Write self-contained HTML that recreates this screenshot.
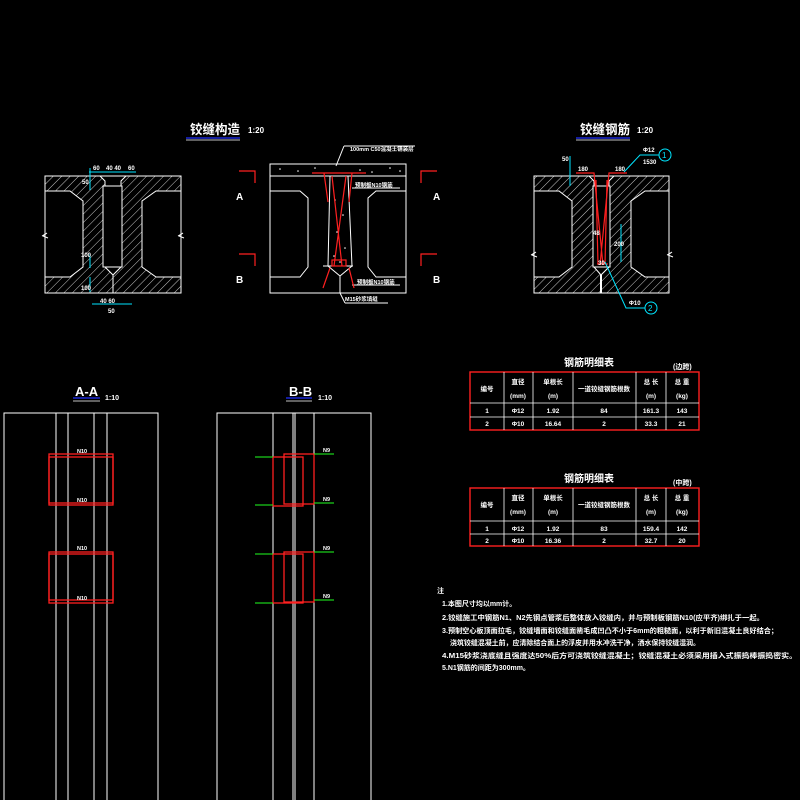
<!DOCTYPE html>
<html><head><meta charset="utf-8"><style>
html,body{margin:0;padding:0;background:#000;}
svg{display:block}
text{font-family:"Liberation Sans","Noto Sans CJK SC",sans-serif;fill:#fff;font-weight:bold}
</style></head><body>
<svg width="800" height="800" viewBox="0 0 800 800" xmlns="http://www.w3.org/2000/svg">
<defs>
<pattern id="h" width="6" height="6" patternUnits="userSpaceOnUse" patternTransform="rotate(45)">
<line x1="0" y1="0" x2="0" y2="6" stroke="#fff" stroke-width="0.8"/>
</pattern>
</defs>
<rect width="800" height="800" fill="#000"/>

<!-- Titles -->
<text x="190" y="134" font-size="13" textLength="50" lengthAdjust="spacingAndGlyphs">铰缝构造</text>
<text x="248" y="133" font-size="8">1:20</text>
<line x1="186" y1="138" x2="240" y2="138" stroke="#2030ff" stroke-width="1.2"/>
<line x1="186" y1="140" x2="240" y2="140" stroke="#fff" stroke-width="0.8"/>
<text x="580" y="134" font-size="13" textLength="50" lengthAdjust="spacingAndGlyphs">铰缝钢筋</text>
<text x="637" y="133" font-size="8">1:20</text>
<line x1="576" y1="138" x2="630" y2="138" stroke="#2030ff" stroke-width="1.2"/>
<line x1="576" y1="140" x2="630" y2="140" stroke="#fff" stroke-width="0.8"/>

<!-- Left drawing -->
<g stroke="#fff" stroke-width="1" fill="none">
<rect x="45" y="176" width="136" height="117"/>
<path d="M45,176 L100,176 L105,181 L105,267 L113,275 L113,293 L45,293 L45,277 L70,277 L83,267 L83,201 L70,191 L45,191 Z" fill="url(#h)"/>
<path d="M181,176 L126,176 L121,181 L121,267 L113,275 L113,293 L181,293 L181,277 L156,277 L142,267 L142,201 L156,191 L181,191 Z" fill="url(#h)"/>
<rect x="103" y="186" width="19" height="81" fill="#000"/>
<path d="M42,236 L47,233 L43,236 L48,238" />
<path d="M178,236 L183,233 L179,236 L184,238" />
</g>
<g stroke="#00e5ff" stroke-width="1" fill="none">
<line x1="89" y1="172" x2="136" y2="172"/><line x1="90" y1="168" x2="90" y2="190"/>
<line x1="90" y1="254" x2="90" y2="268"/><line x1="90" y1="277" x2="90" y2="292"/>
<line x1="92" y1="304" x2="132" y2="304"/>
</g>
<g font-size="6">
<text x="93" y="170">60</text><text x="106" y="170">40 40</text><text x="128" y="170">60</text>
<text x="82" y="184">50</text><text x="81" y="257">100</text><text x="81" y="290">100</text>
<text x="100" y="303">40 60</text><text x="108" y="313">50</text>
</g>

<!-- Middle drawing -->
<g stroke="#fff" stroke-width="1" fill="none">
<rect x="270" y="164" width="136" height="129"/>
<line x1="270" y1="176" x2="406" y2="176"/>
<path d="M270,191 L300,191 L308,198 L308,267 L300,277 L270,277"/>
<path d="M406,191 L376,191 L368,198 L368,267 L376,277 L406,277"/>
<path d="M330,176 L328,266 L340,276 L352,266 L348,176"/>
<line x1="340" y1="276" x2="340" y2="293"/>
<line x1="323" y1="266" x2="353" y2="266"/>
<line x1="344" y1="146" x2="336" y2="166"/>
<line x1="344" y1="146" x2="415" y2="146"/>
<line x1="352" y1="188" x2="400" y2="188"/>
<line x1="352" y1="285" x2="400" y2="285"/>
<line x1="340" y1="293" x2="345" y2="303"/><line x1="345" y1="303" x2="388" y2="303"/>
</g>
<g fill="#fff">
<circle cx="280" cy="169" r="0.8"/><circle cx="298" cy="171" r="0.8"/><circle cx="315" cy="168" r="0.8"/><circle cx="360" cy="170" r="0.8"/><circle cx="372" cy="172" r="0.8"/><circle cx="390" cy="168" r="0.8"/><circle cx="400" cy="171" r="0.8"/>
<circle cx="335" cy="200" r="0.8"/><circle cx="343" cy="215" r="0.8"/><circle cx="337" cy="232" r="0.8"/><circle cx="345" cy="248" r="0.8"/><circle cx="334" cy="256" r="0.8"/><circle cx="340" cy="262" r="0.8"/>
</g>
<g stroke="#ff2020" stroke-width="1.2" fill="none">
<line x1="312" y1="173" x2="366" y2="173"/>
<line x1="324" y1="173" x2="328" y2="202"/><line x1="352" y1="173" x2="349" y2="202"/>
<path d="M332,176 L342,266 M346,176 L334,266"/>
<rect x="332" y="260" width="14" height="6"/>
<line x1="330" y1="268" x2="323" y2="288"/><line x1="349" y1="268" x2="354" y2="288"/>
<path d="M239,171 L255,171 L255,183"/><path d="M437,171 L421,171 L421,183"/>
<path d="M239,254 L255,254 L255,266"/><path d="M437,254 L421,254 L421,266"/>
</g>
<g font-size="10" font-weight="normal"><text x="236" y="200">A</text><text x="433" y="200">A</text><text x="236" y="283">B</text><text x="433" y="283">B</text></g>
<g font-size="5.5">
<text x="350" y="151">100mm C50混凝土铺装层</text>
<text x="355" y="187">预制板N10钢筋</text>
<text x="357" y="284">预制板N10钢筋</text>
<text x="345" y="301">M15砂浆填缝</text>
</g>

<!-- Right drawing -->
<g stroke="#fff" stroke-width="1" fill="none">
<rect x="534" y="176" width="135" height="117"/>
<path d="M534,176 L589,176 L594,181 L594,267 L601,275 L601,293 L534,293 L534,277 L559,277 L572,267 L572,201 L559,191 L534,191 Z" fill="url(#h)"/>
<path d="M669,176 L614,176 L609,181 L609,267 L601,275 L601,293 L669,293 L669,277 L645,277 L631,267 L631,201 L645,191 L669,191 Z" fill="url(#h)"/>
<rect x="593" y="186" width="17" height="81" fill="#000"/>
<line x1="601" y1="275" x2="601" y2="293" stroke-width="2"/>
<path d="M531,255 L536,252 L532,255 L537,257"/><path d="M667,255 L672,252 L668,255 L673,257"/>
</g>
<g stroke="#ff2020" stroke-width="1.2" fill="none">
<path d="M576,173 L594,173 L603,265 M627,173 L609,173 L600,265"/>
<path d="M596,180 L598,264 M607,180 L605,264"/>
<line x1="597" y1="264" x2="608" y2="264"/>
</g>
<g stroke="#00e5ff" stroke-width="1" fill="none">
<line x1="570" y1="156" x2="570" y2="186"/>
<line x1="621" y1="224" x2="621" y2="262"/>
<path d="M624,172 L640,155 L659,155"/><circle cx="665" cy="155" r="6"/>
<path d="M605,262 L626,308 L645,308"/><circle cx="651" cy="308" r="6"/>
</g>
<g font-size="6"><text x="562" y="161">50</text><text x="578" y="171">180</text><text x="615" y="171">180</text>
<text x="643" y="152">Φ12</text><text x="643" y="164">1530</text><text x="593" y="235">48</text><text x="614" y="246">200</text><text x="598" y="265">30</text><text x="629" y="305">Φ10</text></g>
<g font-size="8"><text x="662" y="158" style="fill:#00e5ff;font-weight:normal">1</text><text x="648" y="311" style="fill:#00e5ff;font-weight:normal">2</text></g>

<!-- A-A -->
<text x="75" y="396" font-size="13" font-weight="normal">A-A</text>
<text x="105" y="400" font-size="7">1:10</text>
<line x1="73" y1="398" x2="100" y2="398" stroke="#2030ff" stroke-width="1.2"/>
<line x1="73" y1="401" x2="100" y2="401" stroke="#fff" stroke-width="0.8"/>
<g stroke="#fff" stroke-width="1" fill="none">
<path d="M4,800 L4,413 L158,413 L158,800"/>
<line x1="56" y1="413" x2="56" y2="800"/><line x1="68" y1="413" x2="68" y2="800"/>
<line x1="94" y1="413" x2="94" y2="800"/><line x1="107" y1="413" x2="107" y2="800"/>
</g>
<g stroke="#ff2020" stroke-width="1.3" fill="none">
<rect x="49" y="454" width="64" height="51"/><rect x="49" y="457" width="64" height="46"/>
<rect x="49" y="552" width="64" height="51"/><rect x="49" y="554" width="64" height="46"/>
</g>
<g font-size="5.5"><text x="77" y="453">N10</text><text x="77" y="502">N10</text><text x="77" y="550">N10</text><text x="77" y="600">N10</text></g>

<!-- B-B -->
<text x="289" y="396" font-size="13" font-weight="normal">B-B</text>
<text x="318" y="400" font-size="7">1:10</text>
<line x1="286" y1="398" x2="312" y2="398" stroke="#2030ff" stroke-width="1.2"/>
<line x1="286" y1="401" x2="312" y2="401" stroke="#fff" stroke-width="0.8"/>
<g stroke="#fff" stroke-width="1" fill="none">
<path d="M217,800 L217,413 L371,413 L371,800"/>
<line x1="273" y1="413" x2="273" y2="800"/><line x1="293" y1="413" x2="293" y2="800"/>
<line x1="295" y1="413" x2="295" y2="800"/><line x1="314" y1="413" x2="314" y2="800"/>
</g>
<g stroke="#ff2020" stroke-width="1.3" fill="none">
<rect x="284" y="454" width="30" height="50"/><rect x="273" y="457" width="30" height="49"/>
<rect x="284" y="552" width="30" height="50"/><rect x="273" y="554" width="30" height="49"/>
</g>
<g stroke="#20ff20" stroke-width="1">
<line x1="255" y1="457" x2="273" y2="457"/><line x1="255" y1="505" x2="273" y2="505"/>
<line x1="255" y1="554" x2="273" y2="554"/><line x1="255" y1="603" x2="273" y2="603"/>
<line x1="314" y1="454" x2="334" y2="454"/><line x1="314" y1="503" x2="334" y2="503"/>
<line x1="314" y1="552" x2="334" y2="552"/><line x1="314" y1="600" x2="334" y2="600"/>
</g>
<g font-size="5.5"><text x="323" y="452">N9</text><text x="323" y="501">N9</text><text x="323" y="550">N9</text><text x="323" y="598">N9</text></g>

<!-- Table 1 -->
<text x="564" y="366" font-size="10">钢筋明细表</text>
<text x="673" y="369" font-size="7">(边跨)</text>
<g stroke="#ff2020" stroke-width="1.4" fill="none"><rect x="470" y="372" width="229" height="58"/></g>
<g stroke="#fff" stroke-width="0.8">
<line x1="504" y1="372" x2="504" y2="430"/><line x1="533" y1="372" x2="533" y2="430"/><line x1="573" y1="372" x2="573" y2="430"/><line x1="636" y1="372" x2="636" y2="430"/><line x1="666" y1="372" x2="666" y2="430"/>
<line x1="470" y1="403" x2="699" y2="403"/><line x1="470" y1="417" x2="699" y2="417"/>
</g>
<g font-size="6.5" text-anchor="middle">
<text x="487" y="391">编号</text><text x="518" y="384">直径</text><text x="518" y="398">(mm)</text>
<text x="553" y="384">单根长</text><text x="553" y="398">(m)</text><text x="604" y="391">一道铰缝钢筋根数</text>
<text x="651" y="384">总 长</text><text x="651" y="398">(m)</text><text x="682" y="384">总 重</text><text x="682" y="398">(kg)</text>
<text x="487" y="413">1</text><text x="518" y="413">Φ12</text><text x="553" y="413">1.92</text><text x="604" y="413">84</text><text x="651" y="413">161.3</text><text x="682" y="413">143</text>
<text x="487" y="426">2</text><text x="518" y="426">Φ10</text><text x="553" y="426">16.64</text><text x="604" y="426">2</text><text x="651" y="426">33.3</text><text x="682" y="426">21</text>
</g>

<!-- Table 2 -->
<text x="564" y="482" font-size="10">钢筋明细表</text>
<text x="673" y="485" font-size="7">(中跨)</text>
<g stroke="#ff2020" stroke-width="1.4" fill="none"><rect x="470" y="488" width="229" height="58"/></g>
<g stroke="#fff" stroke-width="0.8">
<line x1="504" y1="488" x2="504" y2="546"/><line x1="533" y1="488" x2="533" y2="546"/><line x1="573" y1="488" x2="573" y2="546"/><line x1="636" y1="488" x2="636" y2="546"/><line x1="666" y1="488" x2="666" y2="546"/>
<line x1="470" y1="521" x2="699" y2="521"/><line x1="470" y1="534" x2="699" y2="534"/>
</g>
<g font-size="6.5" text-anchor="middle">
<text x="487" y="507">编号</text><text x="518" y="500">直径</text><text x="518" y="514">(mm)</text>
<text x="553" y="500">单根长</text><text x="553" y="514">(m)</text><text x="604" y="507">一道铰缝钢筋根数</text>
<text x="651" y="500">总 长</text><text x="651" y="514">(m)</text><text x="682" y="500">总 重</text><text x="682" y="514">(kg)</text>
<text x="487" y="531">1</text><text x="518" y="531">Φ12</text><text x="553" y="531">1.92</text><text x="604" y="531">83</text><text x="651" y="531">159.4</text><text x="682" y="531">142</text>
<text x="487" y="543">2</text><text x="518" y="543">Φ10</text><text x="553" y="543">16.36</text><text x="604" y="543">2</text><text x="651" y="543">32.7</text><text x="682" y="543">20</text>
</g>

<!-- Notes -->
<g font-size="7">
<text x="437" y="593">注</text>
<text x="442" y="606">1.本图尺寸均以mm计。</text>
<text x="442" y="620" textLength="322" lengthAdjust="spacingAndGlyphs">2.铰缝施工中钢筋N1、N2先钢点管浆后整体放入铰缝内，并与预制板钢筋N10(应平齐)绑扎于一起。</text>
<text x="442" y="633" textLength="336" lengthAdjust="spacingAndGlyphs">3.预制空心板顶面拉毛，铰缝墙面和铰缝面凿毛成凹凸不小于6mm的粗糙面，以利于新旧混凝土良好结合；</text>
<text x="450" y="645" textLength="250" lengthAdjust="spacingAndGlyphs">浇筑铰缝混凝土前，应清除结合面上的浮皮并用水冲洗干净，洒水保持铰缝湿润。</text>
<text x="442" y="658" textLength="355" lengthAdjust="spacingAndGlyphs">4.M15砂浆浇底缝且强度达50%后方可浇筑铰缝混凝土；铰缝混凝土必须采用插入式振捣棒振捣密实。</text>
<text x="442" y="670">5.N1钢筋的间距为300mm。</text>
</g>
</svg>
</body></html>
